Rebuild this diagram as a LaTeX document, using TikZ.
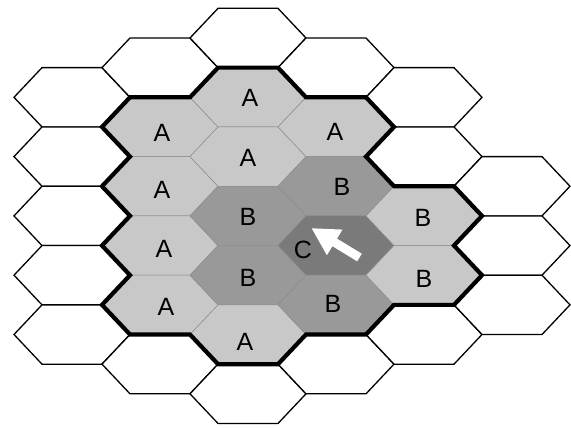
\documentclass[tikz,border=0pt]{standalone}
\usepackage{fontspec}
\setmainfont{Liberation Sans}
\definecolor{cA}{HTML}{C8C8C8}
\definecolor{cB}{HTML}{999999}
\definecolor{cC}{HTML}{7A7A7A}
\definecolor{cEdge}{HTML}{8C8C8C}
\begin{document}
\begin{tikzpicture}[x=1pt,y=-1pt,
  hexcell/.pic={\path[pic actions] (-58,0) -- (-30,-29.65) -- (30,-29.65) -- (58,0) -- (30,29.65) -- (-30,29.65) -- cycle;},
  whitecell/.style={draw=black, line width=1.3pt, fill=white, line join=miter},
  shadecell/.style={draw=cEdge, line width=0.5pt},
  border/.style={draw=black, line width=4.2pt, line join=miter},
  lbl/.style={font=\fontsize{25}{25}\selectfont, inner sep=0pt, text=black}
]
\useasboundingbox (0,0) rectangle (571,428);
\fill[white] (0,0) rectangle (571,428);
% white cells
\foreach \c/\k in {0/2,0/4,0/6,0/8,0/10,1/1,1/11,2/0,2/12,3/1,3/11,4/2,4/4,4/10,5/5,5/7,5/9}
  \pic[whitecell] at ({72+88*\c},{38+29.65*\k}) {hexcell};
% shaded cells
\foreach \c/\k/\col in {1/3/cA,1/5/cA,1/7/cA,1/9/cA,2/2/cA,2/4/cA,2/6/cB,2/8/cB,2/10/cA,3/3/cA,3/5/cB,3/7/cC,3/9/cB,4/6/cA,4/8/cA}
  \pic[shadecell, fill=\col] at ({72+88*\c},{38+29.65*\k}) {hexcell};
% outer border of the shaded region
\path[border] (218,67.65) -- (278,67.65) -- (306,97.3) -- (366,97.3) -- (394,126.95)
  -- (366,156.6) -- (394,186.25) -- (454,186.25) -- (482,215.9) -- (454,245.55)
  -- (482,275.2) -- (454,304.85) -- (394,304.85) -- (366,334.5) -- (306,334.5)
  -- (278,364.15) -- (218,364.15) -- (190,334.5) -- (130,334.5) -- (102,304.85)
  -- (130,275.2) -- (102,245.55) -- (130,215.9) -- (102,186.25) -- (130,156.6)
  -- (102,126.95) -- (130,97.3) -- (190,97.3) -- cycle;
% arrow
\fill[white] (311.7,228.3) -- (342.5,229.6) -- (337.0,238.6) -- (361.8,253.7)
  -- (357.2,261.3) -- (332.4,246.2) -- (326.9,255.2) -- cycle;
% labels
\node[lbl] (a1) at (162,133) {A};
\node[lbl] (a2) at (162,190) {A};
\node[lbl] (a3) at (164,249) {A};
\node[lbl] (a4) at (166,307) {A};
\node[lbl] (a5) at (250,98) {A};
\node[lbl] (a6) at (248,158) {A};
\node[lbl] (a7) at (245,342) {A};
\node[lbl] (a8) at (335,132) {A};
\node[lbl] (b1) at (248,217) {B};
\node[lbl] (b2) at (248,278) {B};
\node[lbl] (b3) at (342,187) {B};
\node[lbl] (b4) at (333,304) {B};
\node[lbl] (b5) at (423,218) {B};
\node[lbl] (b6) at (424,279) {B};
\node[lbl] (c1) at (303,250) {C};
\end{tikzpicture}
\end{document}
